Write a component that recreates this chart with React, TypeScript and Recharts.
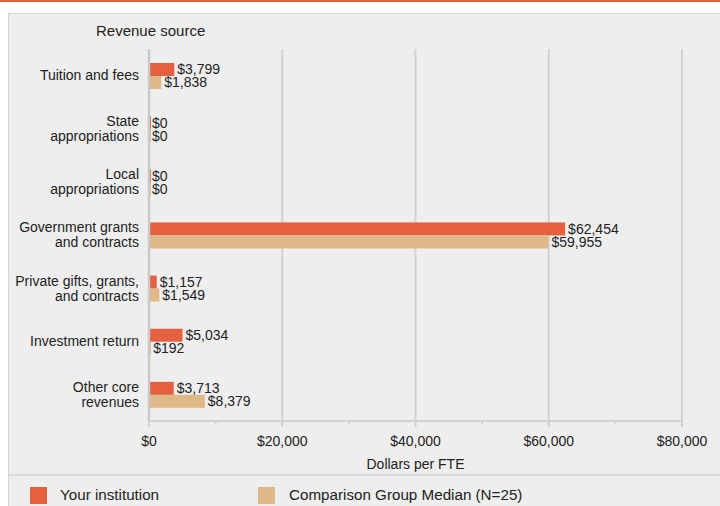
import * as React from 'react';
import { BarChart, Bar, XAxis, YAxis, CartesianGrid, LabelList } from 'recharts';

const categories = [
  'Tuition and fees',
  'State\nappropriations',
  'Local\nappropriations',
  'Government grants\nand contracts',
  'Private gifts, grants,\nand contracts',
  'Investment return',
  'Other core\nrevenues',
];
const yourInstitution = [3799, 0, 0, 62454, 1157, 5034, 3713];
const comparisonMedian = [1838, 0, 0, 59955, 1549, 192, 8379];
const xTicks = [0, 10000, 20000, 30000, 40000, 50000, 60000, 70000, 80000];
const gridValues = [20000, 40000, 60000, 80000];
const xMax = 80000;

const RED = '#e5603f';
const TAN = '#dfb887';
const FONT = '"Liberation Sans", Arial, sans-serif';
const TEXT = '#222222';
const LINE = '#d2d2d2';

const data = categories.map((name, i) => ({
  name,
  mine: yourInstitution[i],
  median: comparisonMedian[i],
}));

const money = (v: number) => '$' + Number(v).toLocaleString('en-US');

function MinBar(props: any) {
  const { x, y, width, height, fill } = props;
  return <rect x={x} y={y} width={Math.max(width || 0, 2)} height={height} fill={fill} />;
}

function CategoryTick(props: any) {
  const { x, y, payload } = props;
  const lines = String(payload.value).split('\n');
  const lh = 15;
  const start = y - ((lines.length - 1) * lh) / 2;
  return (
    <text x={x - 2} textAnchor="end" fontSize={14} fill={TEXT} fontFamily={FONT}>
      {lines.map((l, i) => (
        <tspan key={i} x={x - 2} y={start + i * lh} dy="0.35em">
          {l}
        </tspan>
      ))}
    </text>
  );
}

function ValueTick(props: any) {
  const { x, y, payload } = props;
  const major = payload.value % 20000 === 0;
  return (
    <g>
      <line x1={x} x2={x} y1={y} y2={y + (major ? 6 : 3)} stroke={LINE} strokeWidth={2} />
      {major && (
        <text x={x} y={y + 20} dy="0.35em" textAnchor="middle" fontSize={14} fill={TEXT} fontFamily={FONT}>
          {money(payload.value)}
        </text>
      )}
    </g>
  );
}

// vertical grid only at the labelled ticks
const gridX = ({ offset }: any) => gridValues.map((v) => offset.left + (v / xMax) * offset.width);

export default function App() {
  return (
    <div style={{ position: 'absolute', left: 0, top: 0, width: 720, height: 506, overflow: 'hidden', background: '#fff', fontFamily: FONT }}>
      <div style={{ position: 'absolute', left: 0, top: 0, width: 720, height: 2, background: RED }} />
      <div style={{ position: 'absolute', left: 8, top: 13, width: 730, height: 500, background: '#eeeeee', border: '1px solid #d5d5d5' }} />
      <div style={{ position: 'absolute', left: 9, top: 474, width: 711, height: 2, background: '#d9d9d9' }} />
      <div style={{ position: 'absolute', left: 96, top: 21, fontSize: 15, color: TEXT, lineHeight: '20px' }}>Revenue source</div>

      <div style={{ position: 'absolute', left: 0, top: 0 }}>
        <BarChart
          width={720}
          height={480}
          data={data}
          layout="vertical"
          margin={{ top: 49, right: 38, bottom: 0, left: 0 }}
          barGap={0}
          barSize={13}
        >
          <CartesianGrid horizontal={false} vertical stroke={LINE} strokeWidth={2} verticalCoordinatesGenerator={gridX} />
          <XAxis
            type="number"
            domain={[0, xMax]}
            ticks={xTicks}
            interval={0}
            tickSize={0}
            tickMargin={0}
            tickLine={false}
            tick={<ValueTick />}
            height={59}
            axisLine={{ stroke: LINE, strokeWidth: 2 }}
            label={{ value: 'Dollars per FTE', position: 'insideBottom', offset: 11, fontSize: 14, fill: TEXT, fontFamily: FONT }}
          />
          <XAxis
            xAxisId="top"
            orientation="top"
            type="number"
            domain={[0, xMax]}
            height={0}
            tick={false}
            tickLine={false}
            axisLine={{ stroke: LINE, strokeWidth: 2 }}
          />
          <YAxis
            type="category"
            dataKey="name"
            width={149}
            tickLine={false}
            tick={<CategoryTick />}
            interval={0}
            axisLine={{ stroke: '#c9c9c9', strokeWidth: 2.5 }}
          />
          <Bar dataKey="mine" name="Your institution" fill={RED} shape={<MinBar />} isAnimationActive={false}>
            <LabelList dataKey="mine" position="right" offset={3} formatter={money} fontSize={14} fill={TEXT} fontFamily={FONT} />
          </Bar>
          <Bar dataKey="median" name="Comparison Group Median (N=25)" fill={TAN} shape={<MinBar />} isAnimationActive={false}>
            <LabelList dataKey="median" position="right" offset={3} formatter={money} fontSize={14} fill={TEXT} fontFamily={FONT} />
          </Bar>
        </BarChart>
      </div>

      <div style={{ position: 'absolute', left: 30, top: 487, width: 17, height: 17, background: RED }} />
      <div style={{ position: 'absolute', left: 60, top: 485, fontSize: 15.2, color: TEXT, lineHeight: '20px' }}>Your institution</div>
      <div style={{ position: 'absolute', left: 258, top: 487, width: 17, height: 17, background: TAN }} />
      <div style={{ position: 'absolute', left: 289, top: 485, fontSize: 15.2, color: TEXT, lineHeight: '20px' }}>Comparison Group Median (N=25)</div>
    </div>
  );
}
